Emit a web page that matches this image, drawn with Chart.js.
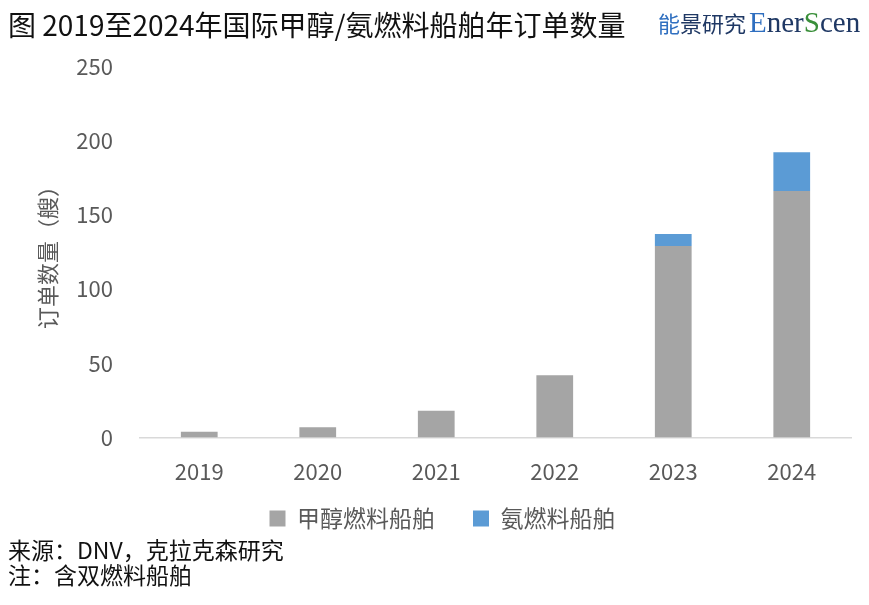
<!DOCTYPE html>
<html>
<head>
<meta charset="utf-8">
<script src="https://cdn.jsdelivr.net/npm/chart.js@4.4.1/dist/chart.umd.min.js"></script>
<style>
  html, body { margin: 0; padding: 0; background: #fff; }
  body { width: 869px; height: 605px; position: relative; overflow: hidden;
         font-family: "Noto Sans CJK SC", "Noto Sans", sans-serif; }
  #title { position: absolute; left: 8px; top: 4px; font-size: 28px; color: #111; white-space: nowrap; z-index: 2; }
  #logo { position: absolute; left: 658px; top: 6px; white-space: nowrap; color: #1f3864; z-index: 2; }
  #logo .cn { font-family: "Noto Sans CJK SC", sans-serif; font-size: 22px; }
  #logo .en { font-family: "Liberation Serif", serif; font-size: 29px; margin-left: 3px; }
  #logo .b { color: #2f6fc0; }
  #logo .g { color: #3a8f3a; }
  #chartBox { position: absolute; left: 0; top: 26px; width: 869px; height: 551px; }
  .note { position: absolute; left: 8px; font-size: 23px; line-height: 25px; color: #111; white-space: nowrap; z-index: 2; }
</style>
</head>
<body>
<div id="title">图 2019至2024年国际甲醇/氨燃料船舶年订单数量</div>
<div id="logo"><span class="cn"><span class="b">能</span>景研究</span><span class="en"><span class="b">E</span>ner<span class="g">S</span>cen</span></div>
<div id="chartBox"><canvas id="orders"></canvas></div>
<div class="note" style="top:537px">来源：DNV，克拉克森研究</div>
<div class="note" style="top:562px">注：含双燃料船舶</div>

<script>
/* ---------------- data ---------------- */
const years = ['2019', '2020', '2021', '2022', '2023', '2024'];
const methanolShips = [4, 7, 18, 42, 129, 166];
const ammoniaShips = [0, 0, 0, 0, 8, 26];
const yTicks = [0, 50, 100, 150, 200, 250];

const TICK_GREY = '#595959';
const FONT = '"Noto Sans CJK SC", "Noto Sans", sans-serif';

// legend padding doubles as the gap between items; pull the row back up afterwards
const LEGEND_PAD = 38;
const LEGEND_LIFT = 37;
const liftLegend = {
  id: 'liftLegend',
  afterLayout(chart) {
    if (!chart.legend) return;
    chart.legend.top -= LEGEND_LIFT;
    chart.legend.bottom -= LEGEND_LIFT;
  }
};

/* ---------------- chart ---------------- */
new Chart(document.getElementById('orders'), {
  type: 'bar',
  data: {
    labels: years,
    datasets: [
      { label: '甲醇燃料船舶', data: methanolShips, backgroundColor: '#a5a5a5' },
      { label: '氨燃料船舶', data: ammoniaShips, backgroundColor: '#5b9bd5' }
    ]
  },
  plugins: [liftLegend],
  options: {
    responsive: true,
    maintainAspectRatio: false,
    animation: false,
    datasets: { bar: { barPercentage: 0.31, categoryPercentage: 1 } },
    layout: { padding: { left: 34, right: 18, top: 0, bottom: 0 } },
    plugins: {
      tooltip: { enabled: false },
      legend: {
        position: 'bottom',
        labels: {
          color: TICK_GREY,
          font: { family: FONT, size: 23 },
          boxWidth: 16,
          boxHeight: 16,
          padding: LEGEND_PAD
        }
      }
    },
    scales: {
      x: {
        stacked: true,
        grid: { display: false, drawTicks: false },
        border: { display: true, color: '#d9d9d9', width: 1.5 },
        ticks: { color: TICK_GREY, font: { family: FONT, size: 22 }, padding: 21 }
      },
      y: {
        stacked: true,
        min: 0,
        max: 250,
        afterBuildTicks: (scale) => { scale.ticks = yTicks.map(v => ({ value: v })); },
        afterFit: (scale) => { scale.width = 106; },
        grid: { display: false, drawTicks: false },
        border: { display: false },
        ticks: { color: TICK_GREY, font: { family: FONT, size: 22 }, padding: 27 },
        title: {
          display: true,
          text: '订单数量（艘）',
          color: TICK_GREY,
          font: { family: FONT, size: 22 },
          padding: 0
        }
      }
    }
  }
});
</script>
</body>
</html>
